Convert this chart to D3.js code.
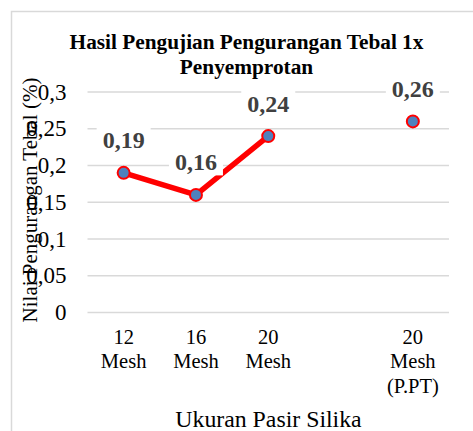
<!DOCTYPE html>
<html><head><meta charset="utf-8">
<script src="https://cdn.jsdelivr.net/npm/d3@7"></script>
<style>body{margin:0;background:#fff}svg{display:block}text{font-family:'Liberation Serif','Times New Roman',serif}</style>
</head><body>
<svg id="c" width="473" height="431"></svg>
<script>
const categories = ["12|Mesh", "16|Mesh", "20|Mesh", "", "20|Mesh|(P.PT)"];
const values = [0.19, 0.16, 0.24, null, 0.26];
const yTicks = [0, 0.05, 0.1, 0.15, 0.2, 0.25, 0.3];
const titleLines = ["Hasil Pengujian Pengurangan Tebal 1x", "Penyemprotan"];
const yTitle = "Nilai Pengurangan Tebal (%)";
const xTitle = "Ukuran Pasir Silika";

const svg = d3.select("#c");
const fmt = v => String(v).replace(".", ",");

// chart border
svg.append("rect").attr("x", 11.5).attr("y", 11.5).attr("width", 480).attr("height", 440)
  .attr("fill", "none").attr("stroke", "#d9d9d9").attr("stroke-width", 1.5);

const x = d3.scaleBand().domain(d3.range(categories.length)).range([87.5, 449]);
const y = d3.scaleLinear().domain([0, 0.3]).range([312.5, 92]);

// gridlines
svg.append("g").selectAll("line").data(yTicks).join("line")
  .attr("x1", 87.5).attr("x2", 449)
  .attr("y1", d => y(d)).attr("y2", d => y(d))
  .attr("stroke", "#d9d9d9").attr("stroke-width", 1.5);

// y tick labels
svg.append("g").selectAll("text").data(yTicks).join("text")
  .attr("x", 66.5).attr("y", d => y(d) + 7.5)
  .attr("text-anchor", "end").style("font-size", "23px")
  .attr("fill", "#000").text(d => fmt(d));

// y axis title
svg.append("text").attr("transform", "translate(36.5,200) rotate(-90)")
  .attr("text-anchor", "middle").style("font-size", "21px")
  .attr("fill", "#000").text(yTitle);

// title
svg.append("g").selectAll("text").data(titleLines).join("text")
  .attr("x", 246.5).attr("y", (d, i) => 48.5 + i * 25.5)
  .attr("text-anchor", "middle").style("font-size", "21.3px")
  .style("font-weight", "bold").attr("fill", "#000").text(d => d);

// x tick labels
const xl = svg.append("g");
categories.forEach((c, i) => {
  if (!c) return;
  const t = xl.append("text").attr("x", x(i) + x.bandwidth() / 2).attr("y", 343.5)
    .attr("text-anchor", "middle").style("font-size", "20.5px").attr("fill", "#000");
  c.split("|").forEach((s, j) => {
    t.append("tspan").attr("x", x(i) + x.bandwidth() / 2).attr("dy", j ? 24.5 : 0).text(s);
  });
});

// x axis title
svg.append("text").attr("x", 268.5).attr("y", 426.5).attr("text-anchor", "middle")
  .style("font-size", "23.8px").attr("fill", "#000").text(xTitle);

const pts = values.map((v, i) => ({ v, i })).filter(d => d.v != null);
const cx = i => x(i) + x.bandwidth() / 2;

// line (connected only within consecutive defined values)
const line = d3.line().defined(d => d != null).x((d, i) => cx(i)).y(d => y(d));
svg.append("path").datum(values).attr("d", line)
  .attr("fill", "none").attr("stroke", "#ff0000").attr("stroke-width", 5.5).attr("stroke-linejoin", "round");

// data labels with white background
const lg = svg.append("g");
pts.forEach(d => {
  const g = lg.append("g");
  const t = g.append("text").attr("x", cx(d.i)).attr("y", y(d.v) - 24.5)
    .attr("text-anchor", "middle").style("font-size", "24px")
    .style("font-weight", "bold").attr("fill", "#404040").text(fmt(d.v));
  const b = t.node().getBBox();
  g.insert("rect", "text").attr("x", b.x - 6).attr("y", b.y).attr("width", b.width + 12)
    .attr("height", b.height).attr("fill", "#fff");
});

// markers
svg.append("g").selectAll("circle").data(pts).join("circle")
  .attr("cx", d => cx(d.i)).attr("cy", d => y(d.v)).attr("r", 6)
  .attr("fill", "#4f81bd").attr("stroke", "#ff0000").attr("stroke-width", 2);
</script>
</body></html>
